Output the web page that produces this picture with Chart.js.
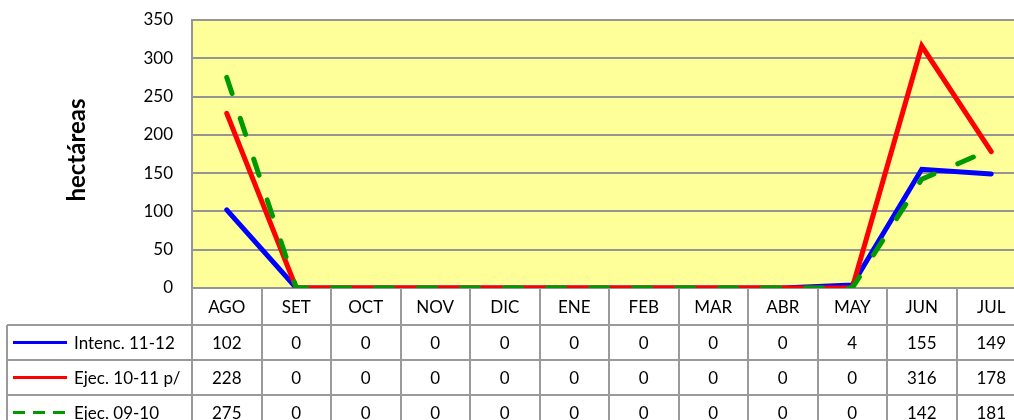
<!DOCTYPE html>
<html>
<head>
<meta charset="utf-8">
<script src="https://cdn.jsdelivr.net/npm/chart.js@4/dist/chart.umd.min.js"></script>
<style>
  html, body { margin: 0; padding: 0; background: #fff; overflow: hidden; }
  #wrap { width: 1030px; height: 420px; position: relative; }
</style>
</head>
<body>
<div id="wrap"><canvas id="chart"></canvas></div>
<script>
// datos
const categories = ['AGO', 'SET', 'OCT', 'NOV', 'DIC', 'ENE', 'FEB', 'MAR', 'ABR', 'MAY', 'JUN', 'JUL'];
const intenc1112 = [102, 0, 0, 0, 0, 0, 0, 0, 0, 4, 155, 149];
const ejec1011 = [228, 0, 0, 0, 0, 0, 0, 0, 0, 0, 316, 178];
const ejec0910 = [275, 0, 0, 0, 0, 0, 0, 0, 0, 0, 142, 181];
const yMin = 0, yMax = 350, yStep = 50;
const yTitle = 'hectáreas';

const FONT = 'Lato, "Open Sans", sans-serif';
const GRID = '#959595';

// fondo amarillo del área de trazado
const plotBg = {
    id: 'plotBg',
    beforeDraw(chart) {
        const { ctx, chartArea: a } = chart;
        ctx.save();
        ctx.fillStyle = '#ffff99';
        ctx.fillRect(a.left, a.top, a.right - a.left, a.bottom - a.top);
        ctx.restore();
    }
};

// título del eje y y tabla de datos
const dataTable = {
    id: 'dataTable',
    afterDraw(chart) {
        const { ctx, chartArea: a } = chart;
        const x = chart.scales.x;
        const colW = x.getPixelForValue(1) - x.getPixelForValue(0);
        const headTop = a.bottom, rowTop = 325, rowH = 35, legLeft = 7;
        const bottom = 440;
        ctx.save();

        // título
        ctx.font = 'bold 24px ' + FONT;
        ctx.fillStyle = '#000';
        ctx.textAlign = 'center';
        ctx.textBaseline = 'middle';
        ctx.translate(77, 150);
        ctx.rotate(-Math.PI / 2);
        ctx.fillText(yTitle, 0, 0);
        ctx.setTransform(1, 0, 0, 1, 0, 0);

        // líneas de la tabla
        ctx.strokeStyle = '#9a9a9a';
        ctx.lineWidth = 2;
        ctx.beginPath();
        for (let i = 0; i <= categories.length; i++) {
            const px = Math.round(a.left + i * colW);
            ctx.moveTo(px, headTop);
            ctx.lineTo(px, bottom);
        }
        ctx.moveTo(legLeft, rowTop);
        ctx.lineTo(legLeft, bottom);
        for (let r = 0; r < 3; r++) {
            const py = rowTop + r * rowH;
            ctx.moveTo(legLeft, py);
            ctx.lineTo(chart.width, py);
        }
        ctx.stroke();

        // encabezados
        ctx.font = '17px ' + FONT;
        ctx.fillStyle = '#000';
        ctx.textAlign = 'center';
        ctx.textBaseline = 'middle';
        categories.forEach((c, i) => {
            ctx.fillText(c, x.getPixelForValue(i), (headTop + rowTop) / 2 + 1);
        });

        // filas
        chart.data.datasets.forEach((ds, r) => {
            const cy = rowTop + r * rowH + rowH / 2 + 1;
            ctx.textAlign = 'center';
            ds.data.forEach((v, i) => {
                ctx.fillText(String(v), x.getPixelForValue(i), cy);
            });
            // clave de leyenda
            ctx.save();
            ctx.strokeStyle = ds.borderColor;
            ctx.lineWidth = 3;
            ctx.lineCap = 'butt';
            if (ds.borderDash && ds.borderDash.length) ctx.setLineDash([12, 8]);
            ctx.beginPath();
            ctx.moveTo(13, cy - 1);
            ctx.lineTo(67, cy - 1);
            ctx.stroke();
            ctx.restore();
            ctx.textAlign = 'left';
            ctx.fillText(ds.label, 74, cy);
        });
        ctx.restore();
    }
};

new Chart(document.getElementById('chart'), {
    type: 'line',
    data: {
        labels: categories,
        datasets: [
            { label: 'Intenc. 11-12', data: intenc1112, borderColor: '#0000ff', order: 3 },
            { label: 'Ejec. 10-11 p/', data: ejec1011, borderColor: '#ff0000', order: 2 },
            { label: 'Ejec. 09-10', data: ejec0910, borderColor: '#009900', borderDash: [17, 26], order: 1 }
        ]
    },
    options: {
        responsive: true,
        maintainAspectRatio: false,
        animation: false,
        layout: { padding: { top: 20, bottom: 132, right: 4, left: 0 } },
        elements: {
            line: { borderWidth: 5, tension: 0, borderCapStyle: 'round', fill: false },
            point: { radius: 0, hoverRadius: 0 }
        },
        plugins: {
            legend: { display: false },
            tooltip: { enabled: false }
        },
        scales: {
            x: {
                display: false,
                offset: true
            },
            y: {
                min: yMin,
                max: yMax,
                afterFit(scale) {
                    scale.width = 192;
                    scale.paddingTop = 0;
                    scale.paddingBottom = 0;
                },
                ticks: {
                    stepSize: yStep,
                    padding: 19,
                    color: '#000',
                    font: { family: FONT, size: 17 }
                },
                grid: { color: GRID, lineWidth: 2, drawTicks: false },
                border: { color: GRID, width: 2 }
            }
        }
    },
    plugins: [plotBg, dataTable]
});
</script>
</body>
</html>
